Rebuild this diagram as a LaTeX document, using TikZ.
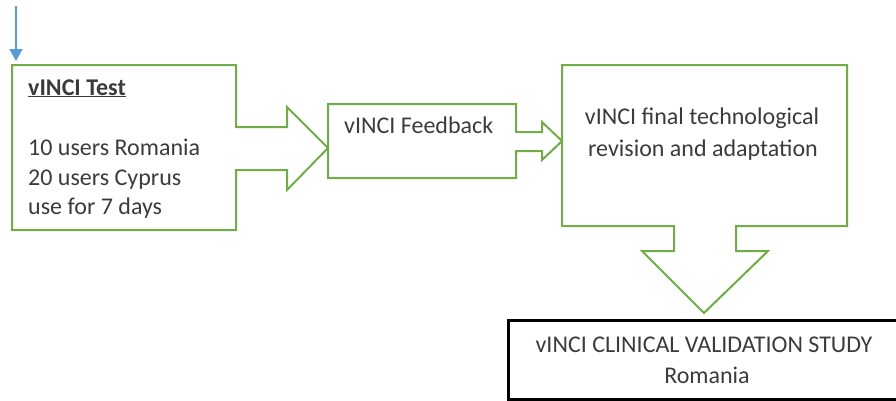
\documentclass[tikz,border=0pt]{standalone}
\usepackage{fontspec}
\setmainfont{Carlito}
\usetikzlibrary{arrows.meta}
\definecolor{grn}{HTML}{70AD47}
\definecolor{blu}{HTML}{5B9BD5}
\definecolor{txt}{HTML}{3B3B3B}
\begin{document}
\begin{tikzpicture}[x=1pt,y=-1pt,
  outl/.style={draw=grn,line width=2pt,line join=miter},
  lbl/.style={text=txt,font=\fontsize{24}{29}\selectfont,inner sep=0pt}]
\useasboundingbox (0,0) rectangle (896,400);
\clip (0,0) rectangle (896,400);
% box 1 with right arrow callout
\draw[outl] (236,127) -- (236,65) -- (12,65) -- (12,230) -- (236,230) -- (236,170) -- (287,170) -- (287,190) -- (328,148) -- (287,107) -- (287,127) -- cycle;
% box 2 with right arrow callout
\draw[outl] (516,132) -- (516,104) -- (328,104) -- (328,178) -- (516,178) -- (516,151) -- (542,151) -- (542,160) -- (562,141) -- (542,122) -- (542,132) -- cycle;
% box 3 with down arrow callout
\draw[outl] (674,226) -- (562,226) -- (562,65) -- (847,65) -- (847,226) -- (736,226) -- (736,251) -- (768,251) -- (704,313) -- (642,251) -- (674,251) -- cycle;
% box 4
\draw[line width=3pt] (508,320) rectangle (905,399);
% blue arrow
\coordinate (bstart) at (16,6);
\coordinate (bend) at (16,61);
\draw[blu,line width=1.5pt,-{Triangle[length=12pt,width=13pt]}] (bstart) -- (bend);
% texts
\node[lbl,anchor=base west,font=\fontsize{24}{29}\selectfont\bfseries] (t1) at (28,95) {\underline{vINCI Test}};
\node[lbl,anchor=base west] (t2) at (28,155) {10 users Romania};
\node[lbl,anchor=base west] (t3) at (28,185) {20 users Cyprus};
\node[lbl,anchor=base west] (t4) at (28,214) {use for 7 days};
\node[lbl,anchor=base west] (f1) at (344,133) {vINCI Feedback};
\node[lbl,anchor=base] (r1) at (702,124) {vINCI final technological};
\node[lbl,anchor=base] (r2) at (703,156) {revision and adaptation};
\node[lbl,anchor=base] (c1) at (704,352) {vINCI CLINICAL VALIDATION STUDY};
\node[lbl,anchor=base] (c2) at (707,383) {Romania};
\end{tikzpicture}
\end{document}
